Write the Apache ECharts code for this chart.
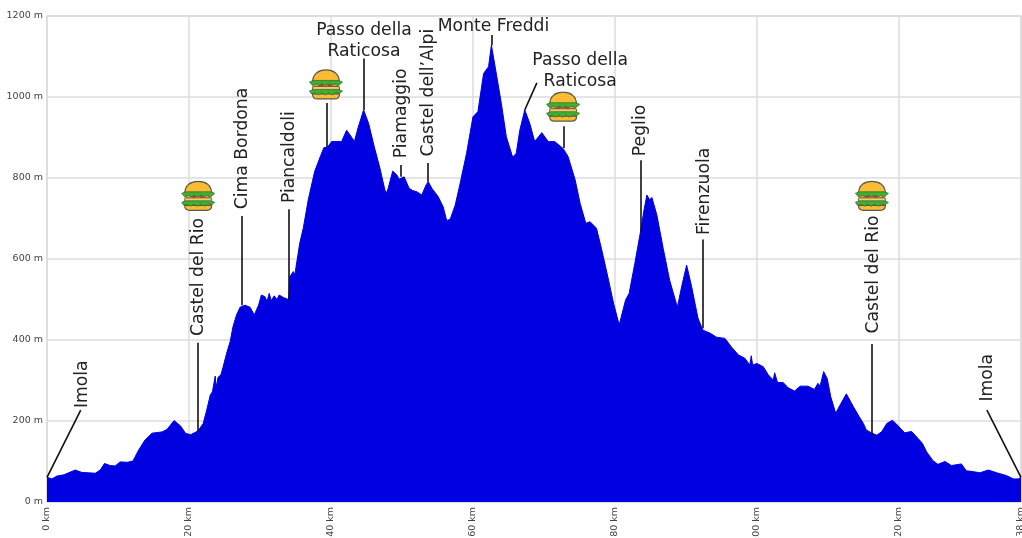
<!DOCTYPE html>
<html>
<head>
<meta charset="utf-8">
<title>Imola - Castel del Rio</title>
<script src="https://cdn.jsdelivr.net/npm/echarts@6/dist/echarts.min.js"></script>
<style>
html, body { margin: 0; padding: 0; background: #fff; overflow: hidden; }
#chart { width: 1022px; height: 538px; }
</style>
</head>
<body>
<div id="chart"></div>
<script>
// profile
const kmValues = [
  0, 0.7, 1.4, 2.35, 4.0, 4.9, 5.9, 6.8, 7.5, 8.1, 8.9, 9.6, 10.3, 11.3, 12.1, 12.9, 13.8, 14.8, 16.2, 16.9,
  17.9, 18.8, 19.5, 20.2, 20.9, 21.3, 22.0, 22.5, 23.0, 23.3, 23.7, 23.8, 24.0, 24.1, 24.5, 24.8, 25.3, 25.8, 26.2, 26.7,
  27.2, 27.9, 28.6, 29.2, 29.8, 30.2, 30.7, 31.0, 31.3, 31.6, 32.0, 32.4, 32.7, 33.3, 34.0, 34.1, 34.2, 34.7, 34.9, 35.6,
  36.1, 36.8, 37.7, 38.5, 39.0, 39.5, 40.1, 40.8, 41.5, 42.2, 42.7, 43.3, 43.8, 44.6, 45.3, 46.1, 46.9, 47.6, 47.9, 48.7,
  49.3, 49.6, 50.3, 51.0, 51.5, 52.1, 52.8, 53.4, 53.7, 54.2, 55.1, 55.8, 56.3, 56.8, 57.5, 58.2, 59.1, 60.0, 60.7, 61.5,
  62.2, 62.6, 63.2, 64.0, 64.7, 65.6, 66.1, 66.6, 67.3, 68.0, 68.7, 69.7, 70.6, 71.5, 72.7, 73.4, 74.4, 75.1, 75.9, 76.5,
  77.4, 78.1, 79.1, 79.8, 80.6, 81.5, 82.0, 82.8, 83.6, 84.1, 84.5, 84.9, 85.2, 85.9, 86.8, 87.7, 88.8, 89.4, 90.1, 90.8,
  91.7, 92.4, 93.4, 94.3, 95.5, 96.4, 97.4, 98.3, 99.0, 99.2, 99.4, 100.0, 100.9, 101.6, 102.3, 102.5, 102.9, 103.7, 104.4, 105.3,
  106.1, 107.2, 108.1, 108.6, 108.9, 109.4, 109.9, 110.4, 111.1, 111.7, 112.6, 113.6, 114.4, 115.0, 115.4, 116.2, 116.9, 117.6, 118.3, 119.1,
  119.9, 120.8, 121.8, 122.7, 123.3, 123.9, 124.8, 125.5, 126.5, 127.4, 128.8, 129.5, 130.5, 131.4, 132.6, 133.8, 135.2, 136.1, 136.8, 137.2
]
const elevation = [
  61, 57, 64, 67, 79, 73, 72, 71, 79, 95, 90, 89, 99, 98, 101, 128, 153, 170, 173, 179,
  201, 188, 170, 166, 172, 176, 194, 227, 264, 272, 311, 281, 281, 308, 314, 333, 367, 396, 433, 462,
  481, 486, 481, 462, 486, 511, 507, 495, 515, 497, 509, 500, 511, 505, 500, 515, 556, 569, 560, 639,
  676, 746, 816, 853, 875, 876, 890, 890, 890, 918, 906, 890, 923, 968, 935, 877, 824, 770, 764, 817,
  807, 797, 803, 775, 769, 766, 758, 783, 791, 775, 754, 729, 695, 698, 733, 787, 861, 951, 964, 1058,
  1075, 1128, 1067, 984, 902, 851, 861, 918, 968, 935, 890, 912, 890, 890, 873, 853, 795, 737, 688, 692,
  676, 626, 548, 491, 437, 499, 515, 589, 667, 721, 758, 746, 752, 709, 626, 548, 481, 532, 585, 532,
  454, 424, 417, 407, 404, 383, 363, 355, 338, 361, 338, 342, 334, 314, 301, 319, 295, 295, 282, 274,
  286, 286, 278, 293, 286, 322, 305, 260, 219, 239, 267, 235, 211, 194, 178, 170, 165, 174, 194, 202,
  188, 171, 174, 157, 145, 124, 102, 93, 100, 90, 94, 77, 75, 72, 79, 72, 65, 57, 57, 61
]

const xMax = 137.2
const xMaxLabel = '138 km'

// place names, anchor in km / m
const placeNames = ['Imola', 'Castel del Rio', 'Cima Bordona', 'Piancaldoli', 'Passo della\nRaticosa', 'Piamaggio',
  'Castel dell’Alpi', 'Monte Freddi', 'Passo della\nRaticosa', 'Peglio', 'Firenzuola', 'Castel del Rio', 'Imola']
const placeKm = [5.0, 21.4, 27.6, 34.2, 44.65, 49.9, 53.7, 62.9, 75.1, 83.6, 92.6, 116.4, 132.5]
const placeM = [232, 410, 723, 738, 1137, 849, 853, 1175, 1064, 854, 659, 416, 248]
const placeVertical = [true, true, true, true, false, true, true, false, false, true, true, true, true]

// leader lines: from km/m to km/m
const leaderFrom = [[0, 61], [21.2, 175], [27.4, 486], [34.1, 499], [39.4, 876], [44.65, 968], [49.9, 803],
  [53.7, 791], [62.6, 1128], [67.3, 968], [72.8, 874], [83.6, 667], [92.4, 429], [116.2, 165], [137.2, 61]]
const leaderTo = [[4.75, 227], [21.2, 393], [27.4, 706], [34.1, 723], [39.4, 985], [44.65, 1095], [49.9, 832],
  [53.7, 837], [62.6, 1153], [69.0, 1035], [72.8, 928], [83.6, 844], [92.4, 648], [116.2, 390], [132.4, 227]]

const burgerKm = [21.3, 39.3, 72.7, 116.2]
const burgerM = [756, 1031, 976, 756]

const burgerSvg = `<svg xmlns="http://www.w3.org/2000/svg" viewBox="0 0 35 31">
<rect x="4" y="12" width="27" height="14" fill="#e2a85a"/>
<path d="M4 14 C4 4 11 1 17.5 1 C24 1 31 4 31 14 Z" fill="#fbbb35" stroke="#5a5a4a" stroke-width="1.2"/>
<path d="M4 25 L31 25 C31 28 29 30 26 30 L9 30 C6 30 4 28 4 25 Z" fill="#fbbb35" stroke="#5a5a4a" stroke-width="1.2"/>
<rect x="4" y="17.5" width="27" height="4" rx="1.5" fill="#f6c96a" stroke="#6a5a3a" stroke-width="1"/>
<path d="M8 15 L13 18 L17 15 L21 18 L26 15 Z" fill="#d8302a"/>
<path d="M1 13 L5 11.5 L30 11.5 L34 13 L32 15 L29 16.5 L26 15 L23 16.5 L20 15 L17 16.5 L14 15 L11 16.5 L8 15 L4 16.5 Z" fill="#3fae34" stroke="#2a6a2a" stroke-width=".7"/>
<path d="M1 22 L5 20.5 L30 20.5 L34 22 L31 24.5 L27 23.5 L24 26 L20 24 L17 26 L13 24 L10 26 L7 24 L3 25 Z" fill="#3fae34" stroke="#2a6a2a" stroke-width=".7"/>
</svg>`
const burgerIcon = 'image://data:image/svg+xml;charset=utf-8,' + encodeURIComponent(burgerSvg)

const axisText = { color: '#444', fontFamily: 'DejaVu Sans', fontSize: 9.5 }
const gridLine = { show: true, lineStyle: { color: '#dcdcdc', width: 1.5 } }

const chart = echarts.init(document.getElementById('chart'), null, { renderer: 'canvas' })
chart.setOption({
  animation: false,
  backgroundColor: '#fff',
  grid: {
    left: 47,
    right: 1,
    top: 16,
    bottom: 36,
    outerBoundsMode: 'none',
    show: true,
    borderColor: '#dcdcdc',
    borderWidth: 1.5
  },
  xAxis: {
    type: 'value',
    min: 0,
    max: xMax,
    interval: 20,
    axisLine: { show: false },
    axisTick: { show: false },
    splitLine: gridLine,
    axisLabel: {
      ...axisText,
      rotate: 90,
      margin: 5,
      showMaxLabel: true,
      hideOverlap: false,
      formatter: v => (v === xMax ? xMaxLabel : v + ' km')
    }
  },
  yAxis: {
    type: 'value',
    min: 0,
    max: 1200,
    interval: 200,
    axisLine: { show: false },
    axisTick: { show: false },
    splitLine: gridLine,
    axisLabel: { ...axisText, margin: 4, formatter: v => v + ' m' }
  },
  series: [
    {
      type: 'line',
      data: kmValues.map((km, i) => [km, elevation[i]]),
      symbol: 'none',
      silent: true,
      lineStyle: { color: '#0000e0', width: 1 },
      areaStyle: { color: '#0000e0', opacity: 1 },
      z: 2
    },
    {
      type: 'lines',
      coordinateSystem: 'cartesian2d',
      silent: true,
      data: leaderFrom.map((from, i) => ({ coords: [from, leaderTo[i]] })),
      lineStyle: { color: '#111', width: 1.6, opacity: 1 },
      z: 3
    },
    {
      type: 'scatter',
      silent: true,
      symbolSize: 1,
      itemStyle: { color: 'transparent', opacity: 1 },
      z: 4,
      data: placeNames.map((name, i) => ({
        value: [placeKm[i], placeM[i]],
        label: {
          show: true,
          formatter: name,
          position: 'inside',
          rotate: placeVertical[i] ? 90 : 0,
          align: placeVertical[i] ? 'left' : 'center',
          verticalAlign: 'middle',
          color: '#222',
          fontFamily: 'DejaVu Sans',
          fontSize: 17.2,
          lineHeight: 21
        }
      }))
    },
    {
      type: 'scatter',
      silent: true,
      symbol: burgerIcon,
      symbolSize: [35, 31],
      itemStyle: { opacity: 1 },
      data: burgerKm.map((km, i) => [km, burgerM[i]]),
      z: 5
    }
  ]
})
</script>
</body>
</html>
